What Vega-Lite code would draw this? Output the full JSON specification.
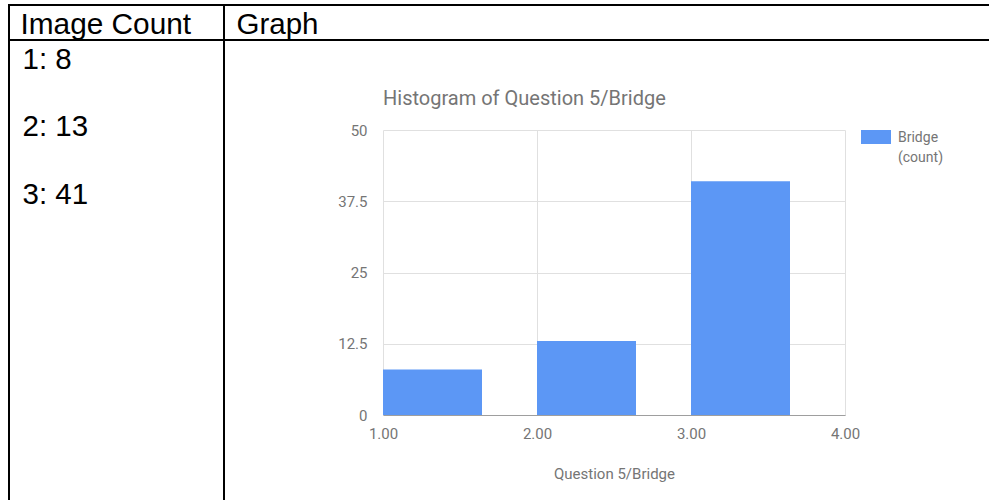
{
  "$schema": "https://vega.github.io/schema/vega-lite/v6.json",
  "padding": {"left": 8, "top": 4, "right": 0, "bottom": 0},
  "autosize": {"type": "pad"},
  "columns": 2,
  "spacing": {"row": 90, "column": 0},
  "bounds": "flush",
  "config": {"view": {"stroke": null}, "font": "Roboto"},
  "concat": [
    {
      "width": 215,
      "height": 35,
      "view": {"stroke": "black", "strokeWidth": 2},
      "data": {"values": [{"heading": "Image Count"}]},
      "mark": {"type": "text", "align": "left", "baseline": "alphabetic", "font": "Liberation Sans", "fontSize": 29.8, "color": "black"},
      "encoding": {"text": {"field": "heading"}, "x": {"value": 11.5}, "y": {"value": 29.3}}
    },
    {
      "width": 765,
      "height": 35,
      "data": {"values": [{"heading": "Graph"}]},
      "layer": [
        {
          "mark": {"type": "text", "align": "left", "baseline": "alphabetic", "font": "Liberation Sans", "fontSize": 29.5, "color": "black"},
          "encoding": {"text": {"field": "heading"}, "x": {"value": 12.5}, "y": {"value": 29.3}}
        },
        {
          "mark": {"type": "rule", "color": "black", "strokeWidth": 2},
          "encoding": {"x": {"value": 0}, "x2": {"value": "width"}, "y": {"value": 0}}
        },
        {
          "mark": {"type": "rule", "color": "black", "strokeWidth": 2},
          "encoding": {"x": {"value": 0}, "x2": {"value": "width"}, "y": {"value": "height"}}
        }
      ]
    },
    {
      "width": 215,
      "height": 370,
      "layer": [
        {
          "data": {"values": [
            {"image": 1, "count": 8, "label": "1: 8"},
            {"image": 2, "count": 13, "label": "2: 13"},
            {"image": 3, "count": 41, "label": "3: 41"}
          ]},
          "mark": {"type": "text", "align": "left", "baseline": "alphabetic", "font": "Liberation Sans", "fontSize": 29.5, "color": "black"},
          "encoding": {
            "text": {"field": "label"},
            "x": {"value": 13.5},
            "y": {"field": "image", "type": "quantitative", "scale": {"domain": [1, 3], "range": [-61.5, 73.5], "zero": false, "nice": false}, "axis": null}
          }
        },
        {
          "data": {"values": [{}]},
          "mark": {"type": "rule", "color": "black", "strokeWidth": 2},
          "encoding": {"x": {"value": 0}, "y": {"value": -90}, "y2": {"value": "height"}}
        },
        {
          "data": {"values": [{}]},
          "mark": {"type": "rule", "color": "black", "strokeWidth": 2},
          "encoding": {"x": {"value": "width"}, "y": {"value": -90}, "y2": {"value": "height"}}
        }
      ]
    },
    {
      "width": 621,
      "height": 285,
      "data": {"values": [
        {"bin_start": 1, "bin_end": 2, "count": 8, "series": "Bridge"},
        {"bin_start": 2, "bin_end": 3, "count": 13, "series": "Bridge"},
        {"bin_start": 3, "bin_end": 4, "count": 41, "series": "Bridge"}
      ]},
      "title": {"text": "Histogram of Question 5/Bridge", "anchor": "start", "dx": 159, "offset": -2, "baseline": "alphabetic", "font": "Roboto", "fontSize": 20, "fontWeight": "normal", "color": "#757575"},
      "mark": {"type": "bar", "x2Offset": -55},
      "encoding": {
        "x": {
          "field": "bin_start", "type": "quantitative", "title": "Question 5/Bridge",
          "scale": {"domain": [1, 4], "range": [159, 621], "nice": false, "zero": false},
          "axis": {"values": [1, 2, 3, 4], "format": ".2f", "labelFlush": false, "ticks": false, "labelPadding": 11, "domainColor": "#9e9e9e", "gridColor": "#e0e0e0", "labelFont": "Roboto", "labelFontSize": 15, "labelColor": "#757575", "titleFont": "Roboto", "titleFontSize": 15, "titleFontWeight": "normal", "titleColor": "#757575", "titlePadding": 25}
        },
        "x2": {"field": "bin_end"},
        "y": {
          "field": "count", "type": "quantitative", "title": null,
          "scale": {"domain": [0, 50], "nice": false},
          "axis": {"values": [0, 12.5, 25, 37.5, 50], "labelExpr": "'' + datum.value", "domain": false, "ticks": false, "labelPadding": 16, "offset": -159, "gridColor": "#e0e0e0", "labelFont": "Roboto", "labelFontSize": 15, "labelColor": "#757575"}
        },
        "y2": {"datum": 0},
        "color": {
          "field": "series", "type": "nominal",
          "scale": {"range": ["#5c97f5"]},
          "legend": {"orient": "none", "legendX": 852, "legendY": 117, "title": null, "padding": 0, "symbolType": "M-1,-0.467H1V0.467H-1Z", "symbolSize": 900, "symbolStrokeWidth": 0, "symbolOpacity": 1, "labelFont": "Roboto", "labelFontSize": 14, "labelColor": "#757575", "labelOffset": 7, "labelExpr": "[datum.label, '(count)']", "labelBaseline": "alphabetic", "labelLimit": 200,
            "encode": {"labels": {"update": {"lineHeight": {"value": 20}, "dy": {"value": 5}}}}}
        }
      }
    }
  ]
}
